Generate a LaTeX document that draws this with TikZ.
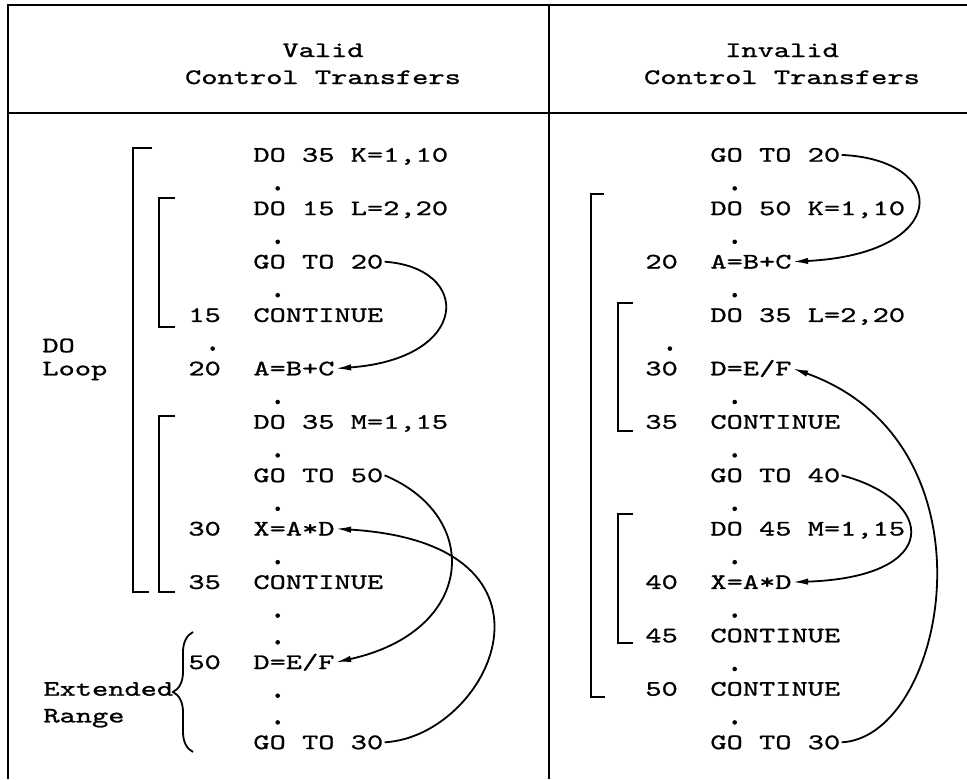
\documentclass[tikz,border=0pt]{standalone}
\usepackage{fontspec}
\newfontfamily\typefont{lmmono10-regular.otf}[FakeStretch=1.4, FakeBold=1]
\usetikzlibrary{arrows.meta,decorations.pathreplacing}

\begin{document}
\begin{tikzpicture}[x=0.25mm, y=-0.25mm,
  code/.style={anchor=base west, inner xsep=1pt, inner ysep=0pt, outer sep=0pt,
    text height=3.4mm, text depth=0pt, font=\typefont\fontsize{15.7pt}{19pt}\selectfont},
  headtext/.style={code, anchor=base},
  frameline/.style={line width=0.55mm},
  loopbar/.style={line width=0.45mm},
  jumparc/.style={line width=0.45mm, -{Latex[length=3.8mm, width=1.6mm]}}]
\useasboundingbox (0,0) rectangle (967,779);

\draw[frameline] (967,5) -- (8,5) -- (8,779);
\draw[frameline] (8,113) -- (967,113);
\draw[frameline] (549,5) -- (549,779);

\node[headtext] (vhead) at (323,57) {Valid};
\node[headtext] (vsub) at (323,84) {Control Transfers};
\node[headtext] (ihead) at (782,57) {Invalid};
\node[headtext] (isub) at (782,84) {Control Transfers};

\node[code] (v1) at (252,161.7) {DO 35 K=1,10};
\node[code] (v2) at (252,215.1) {DO 15 L=2,20};
\node[code] (v3) at (252,268.5) {GO TO 20};
\node[code] (v4) at (252,321.9) {CONTINUE};
\node[code] (v5) at (252,375.3) {A=B+C};
\node[code] (v6) at (252,428.7) {DO 35 M=1,15};
\node[code] (v7) at (252,482.1) {GO TO 50};
\node[code] (v8) at (252,535.5) {X=A*D};
\node[code] (v9) at (252,588.9) {CONTINUE};
\node[code] (v10) at (252,669) {D=E/F};
\node[code] (v11) at (252,749.1) {GO TO 30};
\node[code] (v4n) at (187,321.9) {15};
\node[code] (v5n) at (187,375.3) {20};
\node[code] (v8n) at (187,535.5) {30};
\node[code] (v9n) at (187,588.9) {35};
\node[code] (v10n) at (187,669) {50};

\node[code] (doword) at (41,352.3) {DO};
\node[code] (loopword) at (41,375.3) {Loop};
\node[code] (extword) at (42,695.7) {Extended};
\node[code] (rangeword) at (42,722.4) {Range};

\node[code] (i1) at (709,161.7) {GO TO 20};
\node[code] (i2) at (709,215.1) {DO 50 K=1,10};
\node[code] (i3) at (709,268.5) {A=B+C};
\node[code] (i4) at (709,321.9) {DO 35 L=2,20};
\node[code] (i5) at (709,375.3) {D=E/F};
\node[code] (i6) at (709,428.7) {CONTINUE};
\node[code] (i7) at (709,482.1) {GO TO 40};
\node[code] (i8) at (709,535.5) {DO 45 M=1,15};
\node[code] (i9) at (709,588.9) {X=A*D};
\node[code] (i10) at (709,642.3) {CONTINUE};
\node[code] (i11) at (709,695.7) {CONTINUE};
\node[code] (i12) at (709,749.1) {GO TO 30};
\node[code] (i3n) at (644,268.5) {20};
\node[code] (i5n) at (644,375.3) {30};
\node[code] (i6n) at (644,428.7) {35};
\node[code] (i9n) at (644,588.9) {40};
\node[code] (i10n) at (644,642.3) {45};
\node[code] (i11n) at (644,695.7) {50};

\fill (277.7,188.4) circle[radius=2.3] (277.7,241.8) circle[radius=2.3]
  (277.7,295.2) circle[radius=2.3] (212.7,348.6) circle[radius=2.3]
  (277.7,402) circle[radius=2.3] (277.7,455.4) circle[radius=2.3]
  (277.7,508.8) circle[radius=2.3] (277.7,562.2) circle[radius=2.3]
  (277.7,615.6) circle[radius=2.3] (277.7,642.3) circle[radius=2.3]
  (277.7,695.7) circle[radius=2.3] (277.7,722.4) circle[radius=2.3];
\fill (734.7,188.4) circle[radius=2.3] (734.7,241.8) circle[radius=2.3]
  (734.7,295.2) circle[radius=2.3] (669.9,348.6) circle[radius=2.3]
  (734.7,402) circle[radius=2.3] (734.7,455.4) circle[radius=2.3]
  (734.7,508.8) circle[radius=2.3] (734.7,562.2) circle[radius=2.3]
  (734.7,615.6) circle[radius=2.3] (734.7,669) circle[radius=2.3]
  (734.7,722.4) circle[radius=2.3];

\draw[loopbar] (152,148) -- (133,148) -- (133,592) -- (149,592);
\draw[loopbar] (175,198) -- (159,198) -- (159,327) -- (175,327);
\draw[loopbar] (175,416) -- (159,416) -- (159,592) -- (175,592);
\draw[loopbar] (604,194) -- (591,194) -- (591,697) -- (605,697);
\draw[loopbar] (633,303) -- (618,303) -- (618,431) -- (633,431);
\draw[loopbar] (633,514) -- (618,514) -- (618,643) -- (633,643);
\draw[loopbar, decorate, decoration={brace, amplitude=5mm}] (193,752) -- (193,632);

\draw[jumparc] (v3.east) .. controls +(88,6) and +(135,-10) .. (v5.east);
\draw[jumparc] (v7.east) .. controls +(98,41) and +(140,-31) .. (v10.east);
\draw[jumparc] (v11.east) .. controls +(106,-6) and +(245,15) .. (v8.east);
\draw[jumparc] (i1.east) .. controls +(109,5) and +(158,-8) .. (i3.east);
\draw[jumparc] (i7.east) .. controls +(95,25) and +(150,-5) .. (i9.east);
\draw[jumparc] (i12.east) .. controls +(105,-5) and +(210,75) .. (i5.east);
\end{tikzpicture}
\end{document}
